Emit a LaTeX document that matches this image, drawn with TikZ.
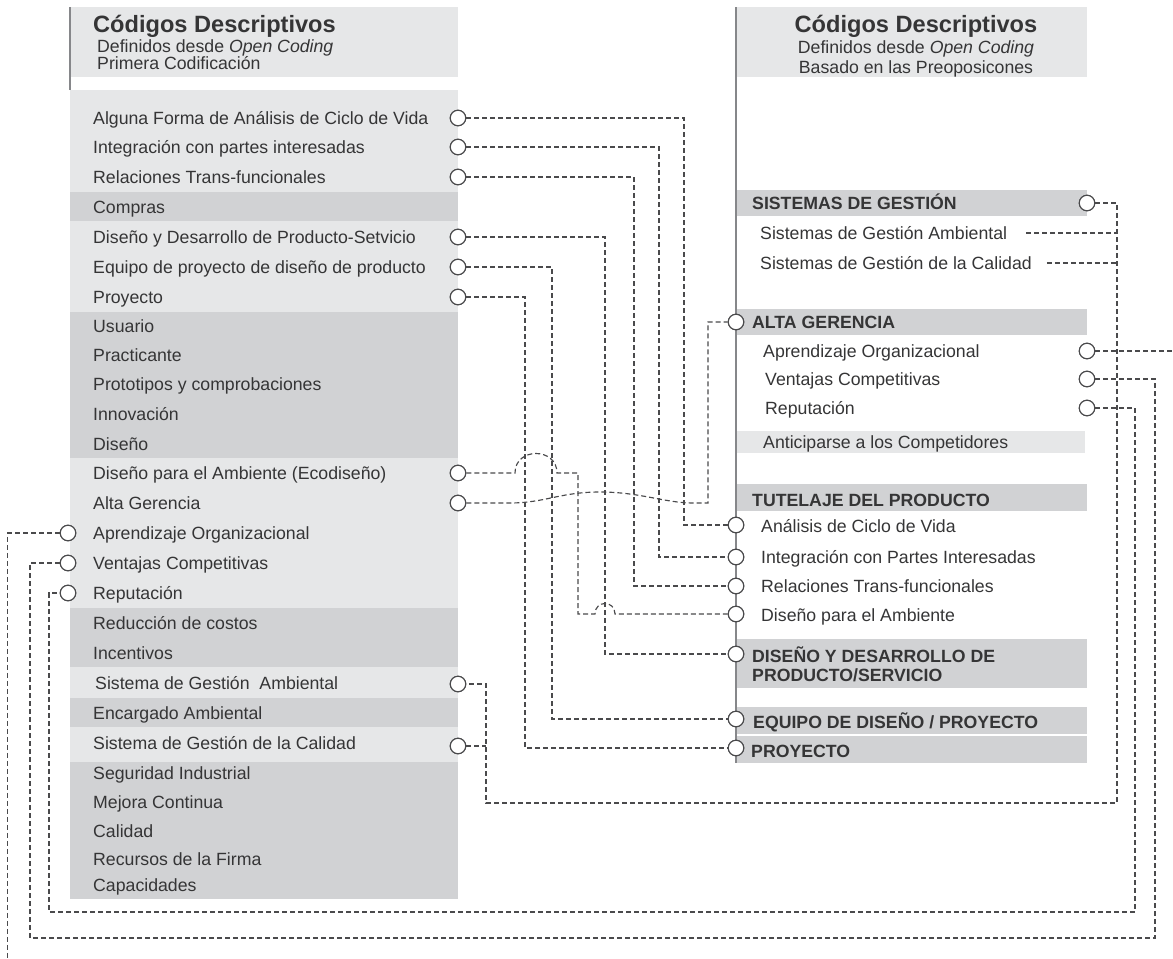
\documentclass[tikz,border=0pt]{standalone}
\usepackage{fontspec}
\setmainfont{Liberation Sans}
\usetikzlibrary{calc}
\definecolor{bandlight}{HTML}{E6E7E8}
\definecolor{banddark}{HTML}{D1D2D4}
\definecolor{ink}{HTML}{353536}
\definecolor{wire}{HTML}{4A4A4C}
\definecolor{rule}{HTML}{86878A}
\begin{document}
\begin{tikzpicture}[x=1bp,y=-1bp,
  txt/.style={font=\fontsize{17.7bp}{20bp}\selectfont, text=ink, inner sep=0pt, anchor=base west},
  caps/.style={txt, font=\fontsize{17.7bp}{19.5bp}\selectfont\bfseries},
  ttl/.style={txt, font=\fontsize{23.6bp}{26bp}\selectfont\bfseries},
  dot/.style={circle, draw=wire, fill=white, line width=1.1bp, minimum size=15.5bp, inner sep=0pt},
  conn/.style={draw=wire, line width=1.15bp, dash pattern=on 5bp off 3bp},
  rulestyle/.style={draw=rule, line width=1.5bp}
]
\useasboundingbox (0,0) rectangle (1173,959);

% ---------- left column: bands ----------
\fill[bandlight] (70,7) rectangle (458,77);
\fill[bandlight] (70,90) rectangle (458,192);
\fill[banddark]  (70,192) rectangle (458,221);
\fill[bandlight] (70,221) rectangle (458,312);
\fill[banddark]  (70,312) rectangle (458,458);
\fill[bandlight] (70,458) rectangle (458,608);
\fill[banddark]  (70,608) rectangle (458,667);
\fill[bandlight] (70,667) rectangle (458,698);
\fill[banddark]  (70,698) rectangle (458,727);
\fill[bandlight] (70,727) rectangle (458,762);
\fill[banddark]  (70,762) rectangle (458,899);
\draw[rulestyle] (70,7) -- (70,90);

\node[ttl] (hL1) at (93,32) {Códigos Descriptivos};
\node[txt] (hL2) at (97,52) {Definidos desde \textit{Open Coding}};
\node[txt] (hL3) at (97,69) {Primera Codificación};

% ---------- left column: items ----------
\node[txt] (tL1)  at (93,124) {Alguna Forma de Análisis de Ciclo de Vida};
\node[txt] (tL2)  at (93,153) {Integración con partes interesadas};
\node[txt] (tL3)  at (93,183) {Relaciones Trans-funcionales};
\node[txt] (tL4)  at (93,213) {Compras};
\node[txt] (tL5)  at (93,243) {Diseño y Desarrollo de Producto-Setvicio};
\node[txt] (tL6)  at (93,273) {Equipo de proyecto de diseño de producto};
\node[txt] (tL7)  at (93,303) {Proyecto};
\node[txt] (tL8)  at (93,332) {Usuario};
\node[txt] (tL9)  at (93,361) {Practicante};
\node[txt] (tL10) at (93,390) {Prototipos y comprobaciones};
\node[txt] (tL11) at (93,420) {Innovación};
\node[txt] (tL12) at (93,450) {Diseño};
\node[txt] (tL13) at (93,479) {Diseño para el Ambiente (Ecodiseño)};
\node[txt] (tL14) at (93,509) {Alta Gerencia};
\node[txt] (tL15) at (93,539) {Aprendizaje Organizacional};
\node[txt] (tL16) at (93,569) {Ventajas Competitivas};
\node[txt] (tL17) at (93,599) {Reputación};
\node[txt] (tL18) at (93,629) {Reducción de costos};
\node[txt] (tL19) at (93,659) {Incentivos};
\node[txt] (tL20) at (95,689) {Sistema de Gestión\ \ Ambiental};
\node[txt] (tL21) at (93,719) {Encargado Ambiental};
\node[txt] (tL22) at (93,749) {Sistema de Gestión de la Calidad};
\node[txt] (tL23) at (93,779) {Seguridad Industrial};
\node[txt] (tL24) at (93,808) {Mejora Continua};
\node[txt] (tL25) at (93,837) {Calidad};
\node[txt] (tL26) at (93,865) {Recursos de la Firma};
\node[txt] (tL27) at (93,891) {Capacidades};

% ---------- right column ----------
\fill[bandlight] (736,7) rectangle (1087,77);
\fill[banddark]  (736,190) rectangle (1087,216);
\fill[banddark]  (736,309) rectangle (1087,335);
\fill[bandlight] (736,431) rectangle (1085,453);
\fill[banddark]  (736,484) rectangle (1087,511);
\fill[banddark]  (736,639) rectangle (1087,688);
\fill[banddark]  (736,707) rectangle (1087,734);
\fill[banddark]  (736,736) rectangle (1087,763);
\draw[rulestyle] (736,7) -- (736,763);

\node[ttl, anchor=base] (hR1) at (916,32) {Códigos Descriptivos};
\node[txt, anchor=base] (hR2) at (916,53) {Definidos desde \textit{Open Coding}};
\node[txt, anchor=base] (hR3) at (916,73) {Basado en las Preoposicones};

\node[caps] (tRSist) at (752,209.5) {SISTEMAS DE GESTIÓN};
\node[txt] (tRSGA) at (760,239) {Sistemas de Gestión Ambiental};
\node[txt] (tRSGC) at (760,269) {Sistemas de Gestión de la Calidad};
\node[caps] (tRAlta) at (752,328.5) {ALTA GERENCIA};
\node[txt] (tRApr) at (763,357) {Aprendizaje Organizacional};
\node[txt] (tRVen) at (765,385) {Ventajas Competitivas};
\node[txt] (tRRep) at (765,414) {Reputación};
\node[txt] (tRAnt) at (763,448) {Anticiparse a los Competidores};
\node[caps] (tRTut) at (752,506.5) {TUTELAJE DEL PRODUCTO};
\node[txt] (tRAna) at (761,532) {Análisis de Ciclo de Vida};
\node[txt] (tRInt) at (761,563) {Integración con Partes Interesadas};
\node[txt] (tRRel) at (761,592) {Relaciones Trans-funcionales};
\node[txt] (tRDpa) at (761,621) {Diseño para el Ambiente};
\node[caps] (tRDyd1) at (752,662) {DISEÑO Y DESARROLLO DE};
\node[caps] (tRDyd2) at (752,681.5) {PRODUCTO/SERVICIO};
\node[caps] (tREqu) at (753,728) {EQUIPO DE DISEÑO / PROYECTO};
\node[caps] (tRPro) at (751,757) {PROYECTO};

% ---------- route lines ----------
\coordinate (vA) at (684,0);
\coordinate (vI) at (659,0);
\coordinate (vR) at (634,0);
\coordinate (vD) at (605,0);
\coordinate (vE) at (552,0);
\coordinate (vP) at (525,0);
\coordinate (vG) at (486,0);
\coordinate (vS) at (1117,0);
\coordinate (vRep) at (1135,0);
\coordinate (vVen) at (1155,0);
\coordinate (vRepL) at (49,0);
\coordinate (vVenL) at (30,0);
\coordinate (hS) at (0,803);
\coordinate (hRep) at (0,912);
\coordinate (hVen) at (0,938);
\coordinate (offB) at (7.5,959);
\coordinate (offR) at (1173,351);

% ---------- connector circles ----------
\node[dot] (cL1)  at (458,118) {};
\node[dot] (cL2)  at (458,147) {};
\node[dot] (cL3)  at (458,177) {};
\node[dot] (cL5)  at (458,237) {};
\node[dot] (cL6)  at (458,267) {};
\node[dot] (cL7)  at (458,297) {};
\node[dot] (cL13) at (458,473) {};
\node[dot] (cL14) at (458,503) {};
\node[dot] (cL15) at (68,533) {};
\node[dot] (cL16) at (68,563) {};
\node[dot] (cL17) at (68,593) {};
\node[dot] (cL20) at (458,684) {};
\node[dot] (cL22) at (458,746) {};

\node[dot] (cRSist) at (1087,203) {};
\node[dot] (cRApr)  at (1087,351) {};
\node[dot] (cRVen)  at (1087,379) {};
\node[dot] (cRRep)  at (1087,408) {};
\node[dot] (cRAlta) at (736,322) {};
\node[dot] (cRAna)  at (736,525) {};
\node[dot] (cRInt)  at (736,557) {};
\node[dot] (cRRel)  at (736,586) {};
\node[dot] (cRDpa)  at (736,614) {};
\node[dot] (cRDyd)  at (736,654) {};
\node[dot] (cREqu)  at (736,719) {};
\node[dot] (cRPro)  at (736,748) {};

% ---------- connectors ----------
\draw[conn] (cL1.east) -| (vA |- cRAna) -- (cRAna.west);
\draw[conn] (cL2.east) -| (vI |- cRInt) -- (cRInt.west);
\draw[conn] (cL3.east) -| (vR |- cRRel) -- (cRRel.west);
\draw[conn] (cL5.east) -| (vD |- cRDyd) -- (cRDyd.west);
\draw[conn] (cL6.east) -| (vE |- cREqu) -- (cREqu.west);
\draw[conn] (cL7.east) -| (vP |- cRPro) -- (cRPro.west);
% hops over the crossing lines
\draw[conn] (cL13.east) -- (515,473) .. controls (515,447) and (557,447) .. (557,473)
  -- (578,473) |- (595,614) .. controls (595,600) and (615,600) .. (615,614) -- (cRDpa.west);
\draw[conn] (cL14.east) -- (510,503) .. controls (545,503) and (560,492) .. (600,492)
  .. controls (640,492) and (665,503) .. (693,503) -- (708,503) |- (cRAlta.west);
% management systems
\draw[conn] (cRSist.east) -| (vS |- hS) -| (vG |- cL20) -- (cL20.east);
\draw[conn] (cL22.east) -- (vG |- cL22);
\draw[conn] ($(tRSGA.base east)+(19,-6)$) coordinate (sga) -- (sga -| vS);
\draw[conn] ($(tRSGC.base east)+(15,-6)$) coordinate (sgc) -- (sgc -| vS);
% long returns round the page
\draw[conn] (cRRep.east) -| (vRep |- hRep) -| (vRepL |- cL17) -- (cL17.west);
\draw[conn] (cRVen.east) -| (vVen |- hVen) -| (vVenL |- cL16) -- (cL16.west);
\draw[conn] (cRApr.east) -- (offR);
\draw[conn] (cL15.west) -| (offB);

% circles again on top of the lines
\foreach \c in {cL1,cL2,cL3,cL5,cL6,cL7,cL13,cL14,cL15,cL16,cL17,cL20,cL22,
                cRSist,cRApr,cRVen,cRRep,cRAlta,cRAna,cRInt,cRRel,cRDpa,cRDyd,cREqu,cRPro}
  \draw[draw=wire, fill=white, line width=1.1bp] (\c.center) circle[radius=7.75bp];
\end{tikzpicture}
\end{document}
